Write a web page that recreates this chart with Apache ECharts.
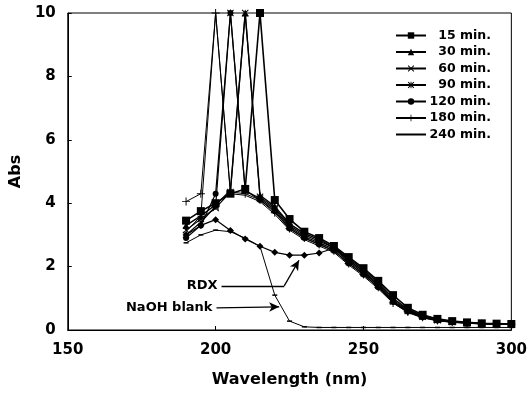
<!DOCTYPE html>
<html>
<head>
<meta charset="utf-8">
<script src="https://cdn.jsdelivr.net/npm/echarts@6/dist/echarts.min.js"></script>
<style>
  html, body { margin: 0; padding: 0; background: #fff; }
  #chart { width: 530px; height: 398px; }
</style>
</head>
<body>
<div id="chart"></div>
<script>
// wavelengths (nm)
const wavelengths = [190, 195, 200, 205, 210, 215, 220, 225, 230, 235, 240, 245, 250, 255, 260, 265, 270, 275, 280, 285, 290, 295, 300]

const names = ['15 min.', '30 min.', '60 min.', '90 min.', '120 min.', '180 min.', '240 min.']

const abs15 = [3.45, 3.75, 4.0, 4.3, 4.45, 10, 4.1, 3.5, 3.1, 2.9, 2.65, 2.3, 1.95, 1.55, 1.1, 0.7, 0.48, 0.35, 0.28, 0.24, 0.21, 0.2, 0.19]
const abs30 = [3.3, 3.6, 3.95, 4.4, 10, 4.25, 3.9, 3.35, 3.05, 2.85, 2.6, 2.25, 1.9, 1.5, 1.0, 0.65, 0.45, 0.33, 0.27, 0.23, 0.21, 0.2, 0.19]
const abs60 = [3.15, 3.5, 3.85, 4.35, 10, 4.2, 3.85, 3.3, 3.0, 2.8, 2.6, 2.2, 1.85, 1.45, 0.95, 0.62, 0.43, 0.32, 0.26, 0.23, 0.21, 0.19, 0.19]
const abs90 = [3.0, 3.4, 3.9, 10, 4.4, 4.15, 3.8, 3.25, 2.95, 2.75, 2.55, 2.15, 1.8, 1.4, 0.9, 0.6, 0.42, 0.31, 0.26, 0.22, 0.2, 0.19, 0.18]
const abs120 = [2.9, 3.3, 4.3, 10, 4.4, 4.1, 3.75, 3.2, 2.9, 2.7, 2.5, 2.1, 1.75, 1.35, 0.88, 0.58, 0.4, 0.3, 0.25, 0.22, 0.2, 0.19, 0.18]
const abs180 = [4.05, 4.3, 10, 4.35, 4.3, 4.1, 3.7, 3.2, 2.9, 2.7, 2.5, 2.1, 1.75, 1.35, 0.85, 0.57, 0.4, 0.3, 0.25, 0.22, 0.2, 0.19, 0.18]
const abs240 = [3.1, 3.6, 10, 4.3, 4.25, 4.05, 3.65, 3.15, 2.85, 2.65, 2.45, 2.05, 1.7, 1.3, 0.85, 0.55, 0.38, 0.29, 0.24, 0.21, 0.19, 0.18, 0.18]

const absRDX = [3.0, 3.3, 3.48, 3.14, 2.87, 2.64, 2.45, 2.36, 2.36, 2.43, 2.58, 2.2, 1.85, 1.4, 0.9, 0.58, 0.42, 0.32, 0.26, 0.23, 0.21, 0.19, 0.19]
const absBlank = [2.75, 3.0, 3.15, 3.1, 2.9, 2.64, 1.1, 0.28, 0.1, 0.08, 0.08, 0.08, 0.08, 0.08, 0.08, 0.08, 0.08, 0.08, 0.08, 0.08, 0.08, 0.08, 0.08]

// annotation arrows [nm, Abs]
const rdxArrow = [[202, 1.39], [223.2, 1.39], [228.2, 2.2]]
const blankArrow = [[200.3, 0.7], [221.5, 0.73]]

const xTicks = [150, 200, 250, 300]
const yTicks = [0, 2, 4, 6, 8, 10]

const FONT = 'DejaVu Sans'

const crossPath = 'path://M0,1L1,0L5,4L9,0L10,1L6,5L10,9L9,10L5,6L1,10L0,9L4,5Z'
const starPath = 'path://M0,1L1,0L5,4L9,0L10,1L6,5L10,9L9,10L5,6L1,10L0,9L4,5Z M4.3,0L5.7,0L5.7,10L4.3,10Z'
const plusPath = 'path://M4.4,0L5.6,0L5.6,4.4L10,4.4L10,5.6L5.6,5.6L5.6,10L4.4,10L4.4,5.6L0,5.6L0,4.4L4.4,4.4Z'

const seriesDefs = [
  { data: abs15, symbol: 'rect', size: 8, width: 1.6 },
  { data: abs30, symbol: 'triangle', size: 7, width: 1.4 },
  { data: abs60, symbol: crossPath, size: 7, width: 1.2 },
  { data: abs90, symbol: starPath, size: 7, width: 1.2 },
  { data: abs120, symbol: 'circle', size: 6, width: 1.2 },
  { data: abs180, symbol: plusPath, size: 8, width: 1 },
  { data: abs240, symbol: 'none', size: 0, width: 1 }
]

const pairs = arr => wavelengths.map((w, i) => [w, arr[i]])

const series = seriesDefs.map((d, i) => ({
  name: names[i],
  type: 'line',
  data: pairs(d.data),
  symbol: d.symbol,
  symbolSize: d.size,
  showSymbol: d.symbol !== 'none',
  lineStyle: { color: '#000', width: d.width },
  itemStyle: { color: '#000', borderColor: '#000', borderWidth: 0 },
  z: 10 - i
}))

const lineStyleArrow = { color: '#000', width: 1.3, type: 'solid' }
const labelStyle = { show: true, position: 'start', distance: 4, color: '#000', fontFamily: FONT, fontWeight: 'bold', fontSize: 13 }

series.push({
  name: 'RDX',
  type: 'line',
  data: pairs(absRDX),
  symbol: 'diamond',
  symbolSize: 7,
  lineStyle: { color: '#000', width: 1.2 },
  itemStyle: { color: '#000' },
  markLine: {
    silent: true,
    symbol: ['none', 'none'],
    lineStyle: lineStyleArrow,
    data: [
      [{ coord: rdxArrow[0], label: Object.assign({}, labelStyle, { formatter: 'RDX' }) }, { coord: rdxArrow[1] }],
      [{ coord: rdxArrow[1], label: { show: false } }, { coord: rdxArrow[2], symbol: 'arrow', symbolSize: [7, 10] }]
    ]
  }
})

series.push({
  name: 'NaOH blank',
  type: 'line',
  data: pairs(absBlank),
  symbol: 'path://M0,0L10,0L10,2L0,2Z',
  symbolSize: [5, 1.5],
  lineStyle: { color: '#000', width: 1 },
  itemStyle: { color: '#000' },
  markLine: {
    silent: true,
    symbol: ['none', 'none'],
    lineStyle: lineStyleArrow,
    data: [
      [{ coord: blankArrow[0], label: Object.assign({}, labelStyle, { formatter: 'NaOH blank' }) }, { coord: blankArrow[1], symbol: 'arrow', symbolSize: [7, 10] }]
    ]
  }
})

const chart = echarts.init(document.getElementById('chart'), null, { renderer: 'canvas' })

// legend entries; the 240 min. line has no marker
const legendData = names.map(n => n === '240 min.' ? { name: n, itemStyle: { opacity: 0 } } : { name: n })

chart.setOption({
  animation: false,
  backgroundColor: '#fff',
  grid: { left: 65, right: 18, top: 13, bottom: 68, show: true, borderColor: '#000', borderWidth: 1 },
  legend: {
    data: legendData,
    orient: 'vertical',
    left: 390,
    top: 24,
    itemWidth: 30,
    itemHeight: 8,
    itemGap: 3.5,
    textStyle: {
      fontFamily: FONT, fontWeight: 'bold', fontSize: 12.5, color: '#000',
      rich: { r: { width: 60, align: 'right', fontFamily: FONT, fontWeight: 'bold', fontSize: 12.5, color: '#000' } }
    },
    formatter: n => '{r|' + n + '}'
  },
  xAxis: {
    type: 'value',
    min: xTicks[0],
    max: xTicks[xTicks.length - 1],
    interval: 50,
    name: 'Wavelength (nm)',
    nameLocation: 'middle',
    nameGap: 42,
    nameTextStyle: { fontFamily: FONT, fontWeight: 'bold', fontSize: 16, color: '#000' },
    axisLine: { lineStyle: { color: '#000', width: 1 } },
    axisTick: { inside: true, length: 4, lineStyle: { color: '#000' } },
    axisLabel: { fontFamily: FONT, fontWeight: 'bold', fontSize: 15, color: '#000', margin: 13 },
    splitLine: { show: false }
  },
  yAxis: {
    type: 'value',
    min: yTicks[0],
    max: yTicks[yTicks.length - 1],
    interval: 2,
    name: 'Abs',
    nameLocation: 'middle',
    nameGap: 34,
    nameTextStyle: { fontFamily: FONT, fontWeight: 'bold', fontSize: 16, color: '#000' },
    axisLine: { show: true, lineStyle: { color: '#000', width: 1 } },
    axisTick: { show: true, inside: true, length: 4, lineStyle: { color: '#000' } },
    axisLabel: { fontFamily: FONT, fontWeight: 'bold', fontSize: 15, color: '#000', margin: 12 },
    splitLine: { show: false }
  },
  series: series
})
</script>
</body>
</html>
